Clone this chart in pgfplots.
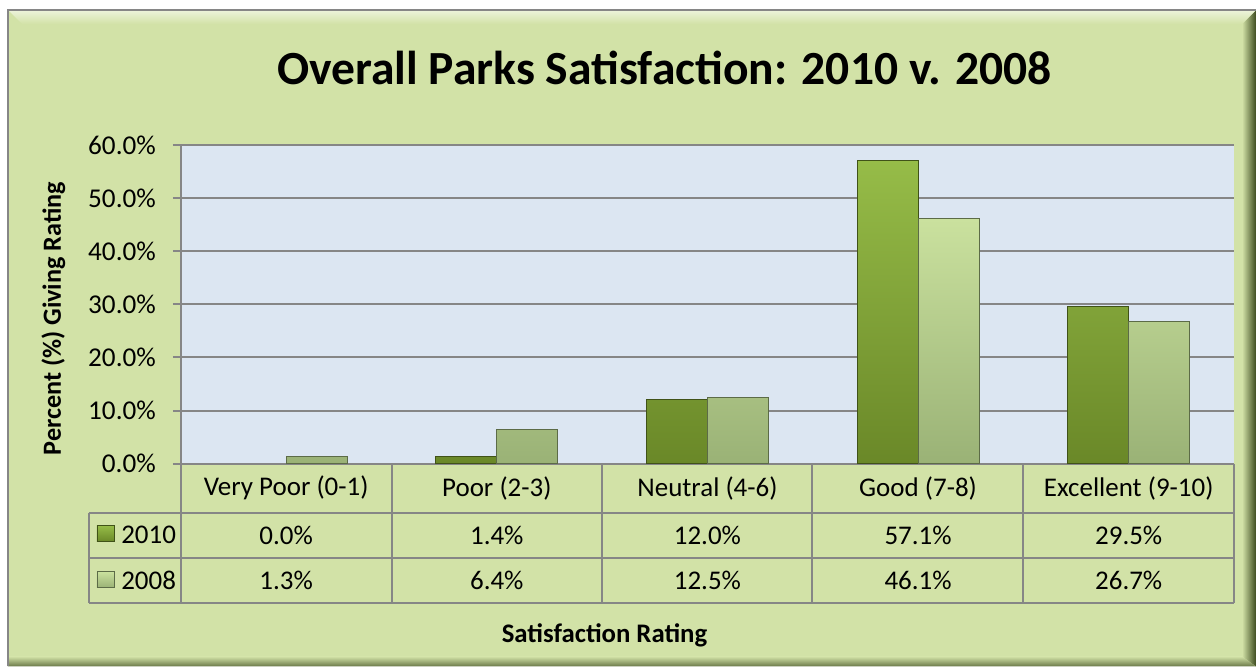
\documentclass[border=0pt]{standalone}
\usepackage{pgfplots}
\pgfplotsset{compat=1.18}
\usepackage{fontspec}
\setmainfont{Carlito}
\definecolor{bg}{RGB}{210,226,167}
\definecolor{plotbg}{RGB}{220,230,242}
\definecolor{gridc}{RGB}{134,134,134}
\definecolor{dkA}{RGB}{150,188,72}
\definecolor{dkB}{RGB}{106,136,40}
\definecolor{ltA}{RGB}{202,225,158}
\definecolor{ltB}{RGB}{154,178,118}
\definecolor{frm}{RGB}{60,74,30}
\begin{document}
\begin{tikzpicture}
\begin{scope}[x=0.5pt,y=-0.5pt]
\fill[white] (0,0) rectangle (1257,667);
\fill[bg] (8,10) rectangle (1257,667);
\shade[left color=bg, right color=frm] (1243,24) -- (1257,10) -- (1257,667) -- (1243,657) -- cycle;
\shade[top color=bg, bottom color=frm!70!bg] (8,657) -- (1243,657) -- (1257,667) -- (8,667) -- cycle;
\shade[top color=bg!40!white, bottom color=bg] (8,10) -- (1257,10) -- (1243,24) -- (22,24) -- cycle;
\draw[gridc, line width=1pt] (8,667) -- (8,10) -- (1257,10);
\node[anchor=base, font=\fontsize{23.8}{28}\selectfont\bfseries] at (665,85) {Overall Parks Satisfaction: 2010 v. 2008};
\node[anchor=base, rotate=90, font=\fontsize{13.1}{15}\selectfont\bfseries] at (61,319) {Percent (\%) Giving Rating};
\node[anchor=base, font=\fontsize{13.4}{15}\selectfont\bfseries] at (605,643) {Satisfaction Rating};
\end{scope}
\begin{axis}[
  at={(90.5pt,-232pt)}, anchor=south west,
  scale only axis, width=527pt, height=159.5pt,
  xmin=-0.5, xmax=4.5, ymin=0, ymax=60,
  ybar=0pt, bar width=30.5pt,
  xtick=\empty,
  ytick={0,10,20,30,40,50,60},
  yticklabels={0.0\%,10.0\%,20.0\%,30.0\%,40.0\%,50.0\%,60.0\%},
  ymajorgrids, grid style={gridc, line width=1pt},
  axis line style={draw=none},
  ytick pos=left,
  major tick style={gridc, line width=1pt},
  major tick length=4pt, tick align=outside,
  yticklabel style={font=\fontsize{13.6}{15}\selectfont, xshift=-5pt},
  axis background/.style={fill=plotbg},
  restrict y to domain=0.05:100,
  clip=false,
]
\addplot[draw=dkB!60!black, line width=0.5pt, top color=dkA, bottom color=dkB]
  coordinates {(0,0.0) (1,1.4) (2,12.0) (3,57.1) (4,29.5)};
\addplot[draw=ltB!60!black, line width=0.5pt, top color=ltA, bottom color=ltB]
  coordinates {(0,1.3) (1,6.4) (2,12.5) (3,46.1) (4,26.7)};
\end{axis}
\begin{scope}[x=0.5pt,y=-0.5pt]
\draw[gridc, line width=1pt] (181,145) -- (181,603);
\draw[gridc, line width=1pt] (89,513) -- (1235,513) (89,558) -- (1235,558) (89,603) -- (1235,603) (89,513) -- (89,603);
\foreach \xx in {392,602,813,1024,1235} {\draw[gridc, line width=1pt] (\xx,464) -- (\xx,603);}
\shade[top color=dkA, bottom color=dkB, draw=dkB!60!black, line width=0.4pt] (97,526) rectangle (114,542);
\shade[top color=ltA, bottom color=ltB, draw=ltB!60!black, line width=0.4pt] (97,572) rectangle (114,588);
\begin{scope}[every node/.style={font=\fontsize{13.5}{15}\selectfont}]
\node[anchor=west, inner sep=0pt] at (121,535.5) {2010};
\node[anchor=west, inner sep=0pt] at (121,580.5) {2008};
\node at (286.4,488.5) {Very Poor (0-1)};
\node at (497.2,488.5) {Poor (2-3)};
\node at (708,488.5) {Neutral (4-6)};
\node at (918.8,488.5) {Good (7-8)};
\node at (1129.6,488.5) {Excellent (9-10)};
\node at (286.4,535.5) {0.0\%};
\node at (497.2,535.5) {1.4\%};
\node at (708,535.5) {12.0\%};
\node at (918.8,535.5) {57.1\%};
\node at (1129.6,535.5) {29.5\%};
\node at (286.4,580.5) {1.3\%};
\node at (497.2,580.5) {6.4\%};
\node at (708,580.5) {12.5\%};
\node at (918.8,580.5) {46.1\%};
\node at (1129.6,580.5) {26.7\%};
\end{scope}
\end{scope}
\end{tikzpicture}
\end{document}
